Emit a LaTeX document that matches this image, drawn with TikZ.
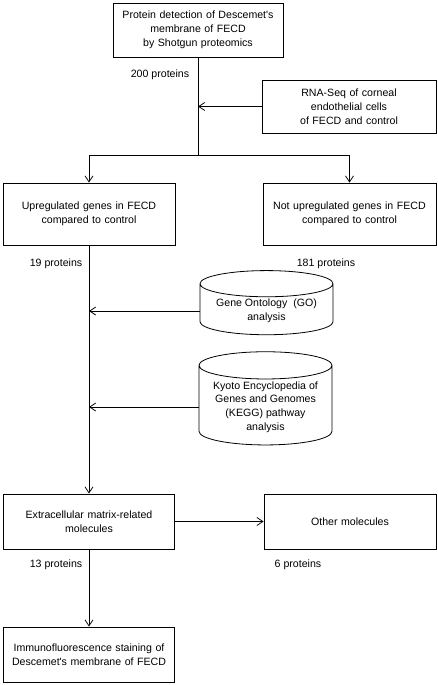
\documentclass[tikz,border=0pt]{standalone}
\usepackage{fontspec}
\setmainfont{Liberation Sans}
\usetikzlibrary{arrows.meta,shapes.geometric}
\newcommand{\apos}{\textquotesingle}
\begin{document}
\begin{tikzpicture}[x=1pt,y=-1pt,inner sep=0.7mm,
	font=\fontsize{10.6}{13.8}\selectfont,
	box/.style={draw,line width=0.8pt,align=center,minimum width=#1,text width=#1-8pt},
	drum/.style={draw,line width=0.8pt,align=center,cylinder,shape border rotate=90,aspect=0.25,minimum width=#1},
	lbl/.style={inner sep=0pt},
	link/.style={line width=0.8pt,-{Straight Barb[length=6pt,width=8pt]}}]
	\useasboundingbox (0,0) rectangle (437,685);
	\path node (detect) at (198,30) [box=170pt,minimum height=54pt] {Protein detection of Descemet\apos s\\membrane of FECD\\by Shotgun proteomics}
	node (rnaseq) at (349,106.5) [box=174pt,minimum height=53pt] {RNA-Seq of corneal\\endothelial cells\\of FECD and control}
	node (up) at (89,214) [box=172pt,minimum height=62pt] {Upregulated genes in FECD\\compared to control}
	node (notup) at (349.5,214) [box=173pt,minimum height=62pt] {Not upregulated genes in FECD\\compared to control}
	node (go) at (266.5,311) [drum=133pt,minimum height=62pt] {Gene Ontology\ \ (GO)\\analysis}
	node (kegg) at (265.5,407) [drum=133pt,minimum height=90pt] {Kyoto Encyclopedia of\\Genes and Genomes\\(KEGG) pathway\\analysis}
	node (ecm) at (89,521.5) [box=171pt,minimum height=55pt] {Extracellular matrix-related\\molecules}
	node (other) at (350,521.5) [box=172pt,minimum height=55pt] {Other molecules}
	node (immuno) at (89,654.5) [box=171pt,minimum height=55pt] {Immunofluorescence staining of\\Descemet\apos s membrane of FECD};
	\path node (n200) at (160,75) [lbl] {200 proteins}
	node (n19) at (56,264) [lbl] {19 proteins}
	node (n181) at (326,264) [lbl] {181 proteins}
	node (n13) at (56,565) [lbl] {13 proteins}
	node (n6) at (298,565) [lbl] {6 proteins};
	\coordinate (split) at (198,155);
	\coordinate (splitl) at (89,155);
	\coordinate (splitr) at (349.5,155);
	\draw[line width=0.8pt] (detect.south) -- (split);
	\draw[link] (rnaseq.west) -- (detect.south |- rnaseq.west);
	\draw[line width=0.8pt] (splitl) -- (splitr);
	\draw[link] (splitl) -- (up.north);
	\draw[link] (splitr) -- (notup.north);
	\draw[link] (up.south) -- (ecm.north);
	\draw[link] (go.west) -- (up.south |- go.west);
	\draw[link] (kegg.west) -- (up.south |- kegg.west);
	\draw[link] (ecm.east) -- (other.west);
	\draw[link] (ecm.south) -- (immuno.north);
\end{tikzpicture}
\end{document}
